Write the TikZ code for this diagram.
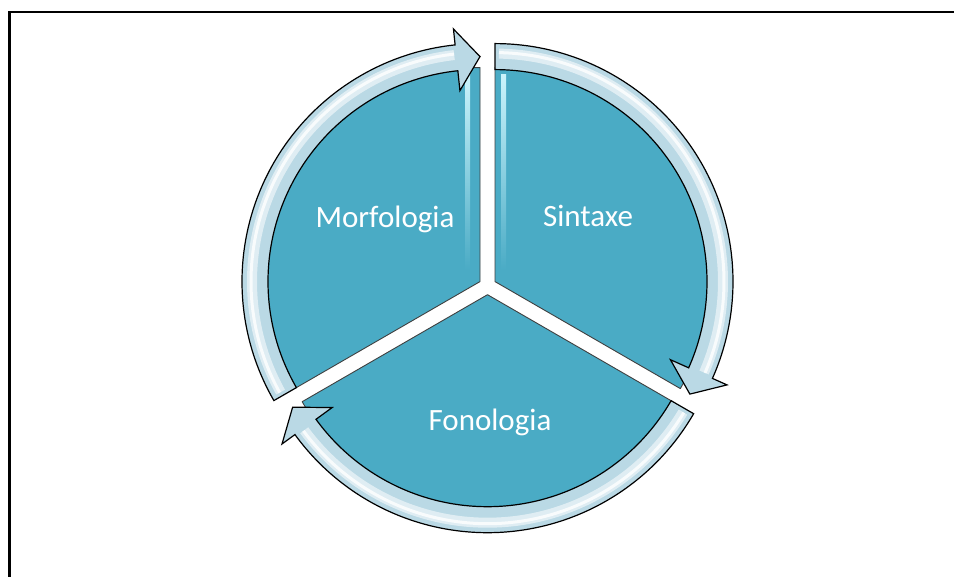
\documentclass[tikz,border=0pt]{standalone}
\usepackage{fontspec}
\setmainfont{Carlito}
\definecolor{segteal}{RGB}{74,171,197}
\definecolor{ringfill}{RGB}{186,217,229}
\definecolor{glint}{RGB}{150,232,248}

% ring arrow around the current origin: #1 = tail angle, #2 = tip angle (clockwise)
\newcommand\ringpath[2]{%
  (#1:238) arc[start angle=#1,end angle=\hb,radius=238]
  -- (\hb:254) -- (#2:225) -- (\hb:192) -- (\hb:212)
  arc[start angle=\hb,end angle=#1,radius=212] -- cycle}
\newcommand\ringarrow[2]{%
  \pgfmathsetmacro\hb{#2+6}%
  \fill[ringfill] \ringpath{#1}{#2};
  \draw[white, opacity=0.55, line width=10pt] (#1-1:228) arc[start angle=#1-1,end angle=\hb+0.5,radius=228];
  \draw[white, opacity=0.8, line width=3pt] (#1-1:229) arc[start angle=#1-1,end angle=\hb+0.5,radius=229];
  \draw[black, line width=1.2pt, line join=miter] \ringpath{#1}{#2};
}

\begin{document}
\begin{tikzpicture}[x=1pt,y=1pt,
  segment/.style={fill=segteal, draw=black!75, line width=0.9pt, line join=round},
  seglabel/.style={text=white, font=\fontsize{31}{37}\selectfont, inner sep=0pt, anchor=base}]
\useasboundingbox (0,0) rectangle (954,577);
\fill[white] (0,0) rectangle (954,577);

% frame lines along the top and left
\draw[line width=2.5pt] (9.5,0) -- (9.5,565) -- (954,565);

% centres of the three exploded segments
\coordinate (cm) at (480,295.4);
\coordinate (cs) at (495,295.4);
\coordinate (cf) at (487.5,282.3);

% segments
\begin{scope}[shift={(cm)}]
  \path[segment] (0,0) -- (210:214) arc[start angle=210,end angle=90,radius=214] -- cycle;
\end{scope}
\begin{scope}[shift={(cs)}]
  \path[segment] (0,0) -- (90:214) arc[start angle=90,end angle=-30,radius=214] -- cycle;
\end{scope}
\begin{scope}[shift={(cf)}]
  \path[segment] (0,0) -- (330:214) arc[start angle=330,end angle=210,radius=214] -- cycle;
\end{scope}

% glossy streaks along the vertical gap
\shade[top color=glint!50!white, bottom color=segteal] (465,307) rectangle (470,502);
\shade[top color=glint!50!white, bottom color=segteal] (501,307) rectangle (506,502);

% circular arrows
\begin{scope}[shift={(cm)}]
  \ringarrow{210}{90}
\end{scope}
\begin{scope}[shift={(cs)}]
  \ringarrow{90}{-30}
\end{scope}
\begin{scope}[shift={(cf)}]
  \ringarrow{330}{210}
\end{scope}

% labels
\node[seglabel] (morf) at (385,349) {Morfologia};
\node[seglabel] (sint) at (588,350) {Sintaxe};
\node[seglabel] (fono) at (490,146) {Fonologia};
\end{tikzpicture}
\end{document}
